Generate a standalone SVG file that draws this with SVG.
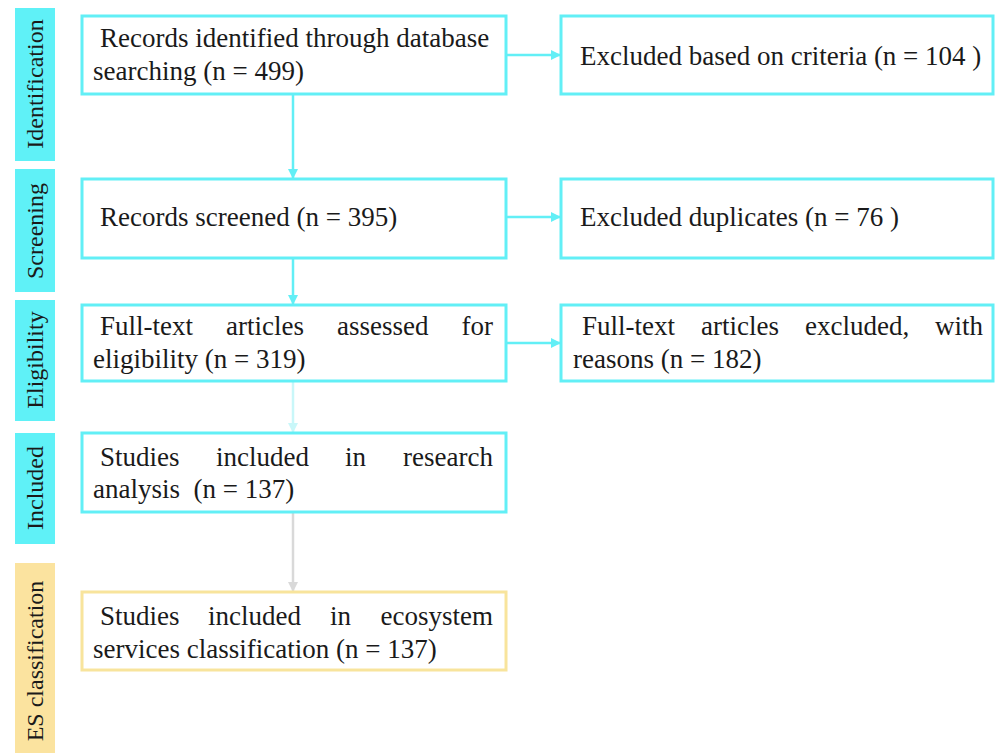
<svg xmlns="http://www.w3.org/2000/svg" width="996" height="753" viewBox="0 0 996 753">
<style>
.bar{fill:#5ff1f7}
.esbar{fill:#fbe39f}
.box{fill:#fff;stroke:#62eff6;stroke-width:3}
.esbox{fill:#fff;stroke:#f8e49c;stroke-width:3}
.t{font-family:"Liberation Serif","Times New Roman",serif;font-size:27px;fill:#1a1a1a}
.s{font-family:"Liberation Serif","Times New Roman",serif;font-size:24px;fill:#1a1a1a;text-anchor:middle}
.c{stroke:#62eff6;stroke-width:2.5;fill:none}
</style>
<defs>
<marker id="ac" markerWidth="10" markerHeight="10" refX="9" refY="5" orient="auto" markerUnits="userSpaceOnUse"><path d="M0,0 L10,5 L0,10 z" fill="#62eff6"/></marker>
<marker id="ap" markerWidth="10" markerHeight="10" refX="9" refY="5" orient="auto" markerUnits="userSpaceOnUse"><path d="M0,0 L10,5 L0,10 z" fill="#c9f7f9"/></marker>
<marker id="ag" markerWidth="10" markerHeight="10" refX="9" refY="5" orient="auto" markerUnits="userSpaceOnUse"><path d="M0,0 L10,5 L0,10 z" fill="#d9d9d9"/></marker>
</defs>
<rect width="996" height="753" fill="#fff"/>

<g id="stages">
<rect class="bar" x="15" y="8" width="40" height="153"/>
<text class="s" transform="translate(43,84) rotate(-90)">Identification</text>
<rect class="bar" x="15" y="169" width="40" height="123"/>
<text class="s" transform="translate(43,231) rotate(-90)">Screening</text>
<rect class="bar" x="15" y="300" width="40" height="121"/>
<text class="s" transform="translate(43,360) rotate(-90)">Eligibility</text>
<rect class="bar" x="15" y="433" width="40" height="111"/>
<text class="s" transform="translate(43,488) rotate(-90)">Included</text>
<rect class="esbar" x="15" y="563" width="40" height="190"/>
<text class="s" transform="translate(43,661) rotate(-90)">ES classification</text>
</g>

<g id="connectors">
<line class="c" x1="293" y1="95" x2="293" y2="178" marker-end="url(#ac)"/>
<line class="c" x1="293" y1="259" x2="293" y2="304" marker-end="url(#ac)"/>
<line class="c" x1="293" y1="382" x2="293" y2="432" stroke="#c9f7f9" style="stroke:#c9f7f9" marker-end="url(#ap)"/>
<line class="c" x1="293" y1="513" x2="293" y2="591" style="stroke:#d9d9d9" marker-end="url(#ag)"/>
<line class="c" x1="507" y1="55" x2="560" y2="55" marker-end="url(#ac)"/>
<line class="c" x1="507" y1="217" x2="560" y2="217" marker-end="url(#ac)"/>
<line class="c" x1="507" y1="343" x2="560" y2="343" marker-end="url(#ac)"/>
</g>

<g id="n1">
<rect class="box" x="82" y="16" width="424" height="78"/>
<text class="t" x="100" y="47">Records identified through database</text>
<text class="t" x="93" y="80">searching (n = 499)</text>
</g>
<g id="n2">
<rect class="box" x="561" y="16" width="432" height="78"/>
<text class="t" x="580" y="65">Excluded based on criteria (n = 104 )</text>
</g>
<g id="n3">
<rect class="box" x="82" y="179" width="424" height="79"/>
<text class="t" x="100" y="226">Records screened (n = 395)</text>
</g>
<g id="n4">
<rect class="box" x="561" y="179" width="432" height="79"/>
<text class="t" x="580" y="226">Excluded duplicates (n = 76 )</text>
</g>
<g id="n5">
<rect class="box" x="82" y="305" width="424" height="76"/>
<text class="t" y="335"><tspan x="100">Full-text</tspan><tspan x="226">articles</tspan><tspan x="337">assessed</tspan><tspan x="493" text-anchor="end">for</tspan></text>
<text class="t" x="93" y="368">eligibility (n = 319)</text>
</g>
<g id="n6">
<rect class="box" x="561" y="305" width="432" height="76"/>
<text class="t" y="335"><tspan x="582">Full-text</tspan><tspan x="701">articles</tspan><tspan x="805">excluded,</tspan><tspan x="983" text-anchor="end">with</tspan></text>
<text class="t" x="573" y="368">reasons (n = 182)</text>
</g>
<g id="n7">
<rect class="box" x="82" y="433" width="424" height="79"/>
<text class="t" y="466"><tspan x="100">Studies</tspan><tspan x="216">included</tspan><tspan x="345">in</tspan><tspan x="493" text-anchor="end">research</tspan></text>
<text class="t" x="93" y="498" xml:space="preserve">analysis  (n = 137)</text>
</g>
<g id="n8">
<rect class="esbox" x="82" y="592" width="424" height="78"/>
<text class="t" y="625"><tspan x="100">Studies</tspan><tspan x="208">included</tspan><tspan x="330">in</tspan><tspan x="493" text-anchor="end">ecosystem</tspan></text>
<text class="t" x="93" y="658">services classification (n = 137)</text>
</g>
</svg>
